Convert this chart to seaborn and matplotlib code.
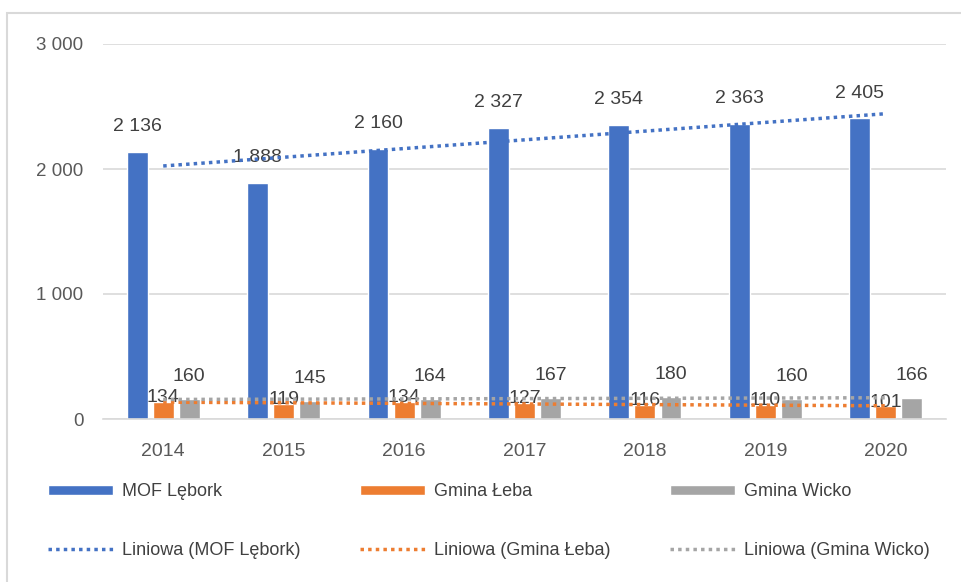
import numpy as np
import pandas as pd
import matplotlib.pyplot as plt
import seaborn as sns
from matplotlib.patches import Patch, Rectangle
from matplotlib.lines import Line2D

# -------------------
# Data
years = ["2014", "2015", "2016", "2017", "2018", "2019", "2020"]
series = ["MOF Lębork", "Gmina Łeba", "Gmina Wicko"]
mof_lebork = [2136, 1888, 2160, 2327, 2354, 2363, 2405]
gmina_leba = [134, 119, 134, 127, 116, 110, 101]
gmina_wicko = [160, 145, 164, 167, 180, 160, 166]
colors = ["#4472C4", "#ED7D31", "#A5A5A5"]

df = pd.DataFrame({
    "year": years * 3,
    "series": [s for s in series for _ in years],
    "value": mof_lebork + gmina_leba + gmina_wicko,
})

# -------------------
# Plot
sns.set_style("white")
plt.rcParams['font.family'] = ['Liberation Sans', 'DejaVu Sans']

fig = plt.figure(figsize=(9.62, 5.82), dpi=100)
ax = fig.add_axes([103 / 962, 1 - 419 / 582, 843 / 962, 375 / 582])

sns.barplot(data=df, x="year", y="value", hue="series", palette=colors,
            width=0.65, gap=0.2, ax=ax, legend=False, saturation=1)

# data labels (Excel nudges the small orange labels down to avoid overlap)
pads = [12, -3, 10]
for cont, pad in zip(ax.containers, pads):
    ax.bar_label(cont, labels=[f"{int(v):,}".replace(",", " ") for v in cont.datavalues],
                 padding=pad, fontsize=14, color="#404040")

# linear trend lines
x = np.arange(len(years))
for vals, c in zip([mof_lebork, gmina_leba, gmina_wicko], colors):
    k, b = np.polyfit(x, vals, 1)
    ax.plot(x, k * x + b, linestyle=(0, (1, 1.2)), color=c, lw=2.5, zorder=5)

ax.set_ylim(0, 3000)
ax.set_xlim(-0.5, 6.5)
ax.set_yticks([0, 1000, 2000, 3000])
ax.set_yticklabels(["0", "1 000", "2 000", "3 000"])
ax.yaxis.grid(True, color="#d9d9d9", lw=1.2)
ax.set_axisbelow(True)
for s in ["top", "right", "left"]:
    ax.spines[s].set_visible(False)
ax.spines["bottom"].set_color("#d9d9d9")
ax.spines["bottom"].set_linewidth(1.2)
ax.tick_params(axis="x", length=0, labelsize=14, colors="#595959", pad=17)
ax.tick_params(axis="y", length=0, labelsize=13.5, colors="#595959", pad=14)
ax.set_xlabel("")
ax.set_ylabel("")

# figure border
fig.patches.append(Rectangle((7 / 962, -0.01), 1.0, 1 - 13 / 582 + 0.01,
                             transform=fig.transFigure, fill=False,
                             edgecolor="#d9d9d9", lw=1.5))

handles = []
for s, c in zip(series, colors):
    handles.append(Patch(facecolor=c, label=s))
    handles.append(Line2D([], [], color=c, linestyle=(0, (1, 1.2)), lw=2.5,
                          label=f"Liniowa ({s})"))
fig.legend(handles=handles, ncol=3, loc="lower left",
           bbox_to_anchor=(0.033, 0.012, 0.95, 0.2), mode="expand",
           frameon=False, fontsize=13, handlelength=3.6, handleheight=0.45,
           labelspacing=2.3, handletextpad=0.5, labelcolor="#404040")

plt.savefig("out.png", dpi=100)
